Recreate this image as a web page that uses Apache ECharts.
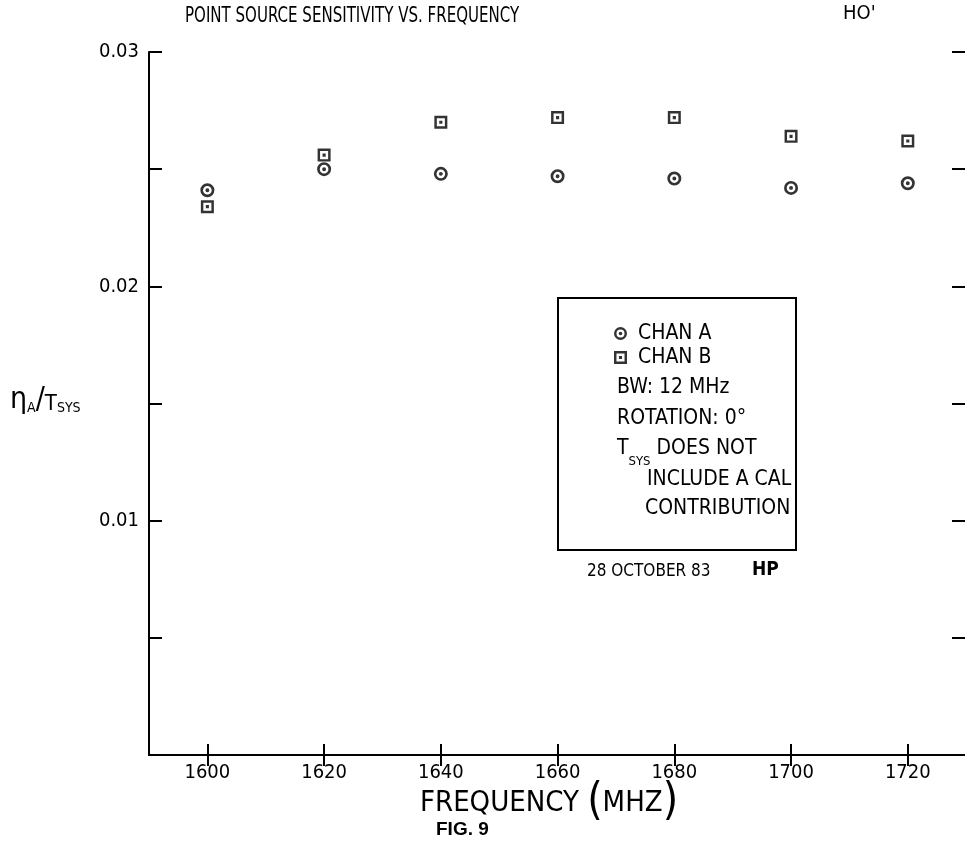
<!DOCTYPE html>
<html><head><meta charset="utf-8">
<script src="https://cdn.jsdelivr.net/npm/echarts@6/dist/echarts.min.js"></script>
<style>html,body{margin:0;padding:0;background:#fff}#c{width:965px;height:844px}</style>
</head><body><div id="c"></div>
<script>
// ---- data ----
const frequencies = [1600, 1620, 1640, 1660, 1680, 1700, 1720];
const chanA = [0.0241, 0.0250, 0.0248, 0.0247, 0.0246, 0.0242, 0.0244];
const chanB = [0.0234, 0.0256, 0.0270, 0.0272, 0.0272, 0.0264, 0.0262];
const xTickValues = [1600, 1620, 1640, 1660, 1680, 1700, 1720];
const yLabelValues = [0.01, 0.02, 0.03];
const seriesNames = ['CHAN A', 'CHAN B'];
const noteLines = ['BW: 12 MHz', 'ROTATION: 0\u00B0'];

const FONT = '"Liberation Sans Narrow", "DejaVu Sans Condensed", "Noto Sans", sans-serif';
const circleSym = 'path://M50,0 A50,50 0 1,1 50,100 A50,50 0 1,1 50,0 Z M50,19 A31,31 0 1,0 50,81 A31,31 0 1,0 50,19 Z M50,36 A14,14 0 1,1 50,64 A14,14 0 1,1 50,36 Z';
const squareSym = 'path://M0,0 L100,0 L100,100 L0,100 Z M19,19 L19,81 L81,81 L81,19 Z M38,38 L62,38 L62,62 L38,62 Z';

const axisLine = {lineStyle: {color: '#000', width: 2}};
const chart = echarts.init(document.getElementById('c'), null, {renderer: 'canvas'});
const gridCfg = {left: 149, top: 52, width: 823, height: 703, outerBoundsMode: 'none', containLabel: false};

chart.setOption({
  backgroundColor: '#fff',
  animation: false,
  grid: gridCfg,
  legend: {
    data: seriesNames, orient: 'vertical', left: 609, top: 318, itemGap: 3,
    itemWidth: 13, itemHeight: 13,
    textStyle: {fontFamily: FONT, fontSize: 21, color: '#000', padding: [0, 0, 0, 6]}
  },
  xAxis: [{
    type: 'value', min: 1590, max: 1731, position: 'bottom',
    axisLine: axisLine, splitLine: {show: false},
    axisTick: {inside: true, length: 11, lineStyle: {color: '#000', width: 2}, customValues: xTickValues},
    axisLabel: {customValues: xTickValues, color: '#000', fontFamily: FONT, fontSize: 20, margin: 8, formatter: v => String(v)}
  }, {
    type: 'value', min: 1590, max: 1731, position: 'top',
    axisLine: axisLine, splitLine: {show: false},
    axisTick: {inside: true, length: 11, lineStyle: {color: '#000', width: 2}, customValues: xTickValues},
    axisLabel: {show: false}
  }],
  yAxis: [{
    type: 'value', min: 0, max: 0.03, interval: 0.005, position: 'left',
    axisLine: axisLine, splitLine: {show: false},
    axisTick: {inside: true, length: 13, lineStyle: {color: '#000', width: 2}},
    axisLabel: {color: '#000', fontFamily: FONT, fontSize: 20, margin: 10,
      formatter: v => { const r = Math.round(v * 1000) / 1000; return yLabelValues.includes(r) ? r.toFixed(2) : ''; }}
  }, {
    type: 'value', min: 0, max: 0.03, interval: 0.005, position: 'right',
    axisLine: axisLine, splitLine: {show: false},
    axisTick: {inside: true, length: 20, lineStyle: {color: '#000', width: 2}},
    axisLabel: {show: false}
  }],
  series: [{
    name: seriesNames[0], type: 'scatter', symbol: circleSym, symbolSize: 14,
    itemStyle: {color: '#000'},
    data: frequencies.map((f, i) => [f, chanA[i]])
  }, {
    name: seriesNames[1], type: 'scatter', symbol: squareSym, symbolSize: 13,
    itemStyle: {color: '#000'},
    data: frequencies.map((f, i) => [f, chanB[i]])
  }],
  graphic: [
    {type: 'text', left: 185, top: 5, scaleX: 0.76, style: {text: 'POINT SOURCE SENSITIVITY VS. FREQUENCY', font: '22px ' + FONT, fill: '#000'}},
    {type: 'text', left: 843, top: 4, style: {text: "HO'", font: '20px ' + FONT, fill: '#000'}},
    {type: 'text', left: 10, top: 385, style: {
      text: '{e|\u03B7}{s|A}{n|/}{t|T}{s|SYS}',
      rich: {
        e: {font: '30px ' + FONT, fill: '#000', lineHeight: 34, verticalAlign: 'bottom'},
        s: {font: '14px ' + FONT, fill: '#000', lineHeight: 34, verticalAlign: 'bottom'},
        n: {font: '30px ' + FONT, fill: '#000', lineHeight: 34, verticalAlign: 'bottom'},
        t: {font: '22px ' + FONT, fill: '#000', lineHeight: 34, verticalAlign: 'bottom'}
      }}},
    {type: 'text', left: 420, top: 781, style: {
      text: '{a|FREQUENCY }{p|(}{a|MHZ}{p|)}',
      rich: {
        a: {font: '29px ' + FONT, fill: '#000', lineHeight: 44, verticalAlign: 'middle'},
        p: {font: '44px ' + FONT, fill: '#000', lineHeight: 44, verticalAlign: 'middle'}
      }}},
    {type: 'text', left: 436, top: 820, style: {text: 'FIG. 9', font: 'bold 19px "Liberation Sans", Arial, sans-serif', fill: '#000'}},
    {type: 'rect', shape: {x: 558, y: 298, width: 238, height: 252}, style: {fill: 'none', stroke: '#000', lineWidth: 2}},
    {type: 'text', left: 617, top: 377, style: {text: noteLines[0], font: '21px ' + FONT, fill: '#000'}},
    {type: 'text', left: 617, top: 408, style: {text: noteLines[1], font: '21px ' + FONT, fill: '#000'}},
    {type: 'text', left: 617, top: 438, style: {
      text: '{t|T}{s|SYS}{t| DOES NOT}',
      rich: {
        t: {font: '21px ' + FONT, fill: '#000', lineHeight: 30, verticalAlign: 'top'},
        s: {font: '13px ' + FONT, fill: '#000', lineHeight: 30, verticalAlign: 'bottom'}
      }}},
    {type: 'text', left: 647, top: 469, style: {text: 'INCLUDE A CAL', font: '21px ' + FONT, fill: '#000'}},
    {type: 'text', left: 645, top: 498, style: {text: 'CONTRIBUTION', font: '21px ' + FONT, fill: '#000'}},
    {type: 'text', left: 587, top: 563, style: {text: '28 OCTOBER 83', font: '17px ' + FONT, fill: '#000'}},
    {type: 'text', left: 752, top: 561, style: {text: 'HP', font: 'bold 19px ' + FONT, fill: '#000'}}
  ]
});
</script></body></html>
